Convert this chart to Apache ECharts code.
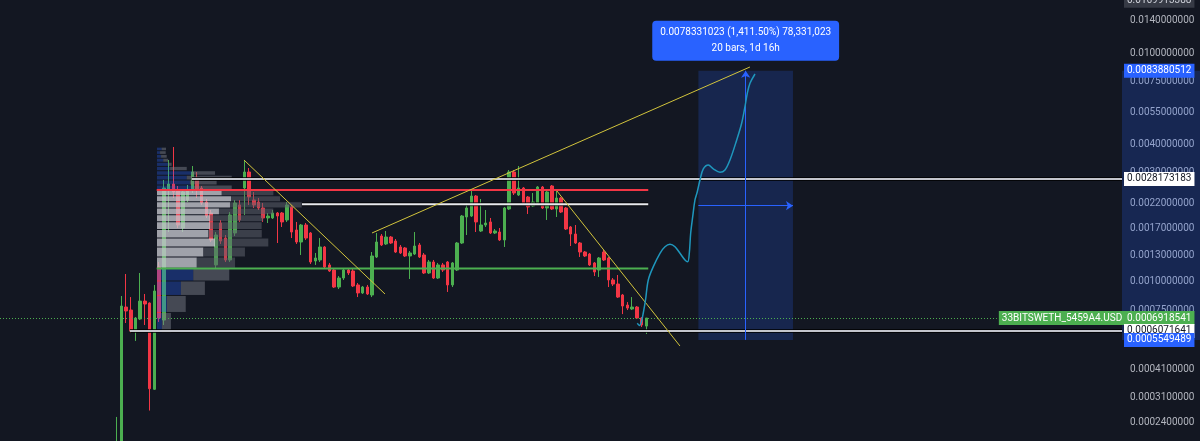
<!DOCTYPE html>
<html><head><meta charset="utf-8">
<script src="https://cdn.jsdelivr.net/npm/echarts@6/dist/echarts.min.js"></script>
<style>html,body{margin:0;padding:0;background:#131722;}#c{width:1200px;height:441px;}</style>
</head><body><div id="c"></div>
<script>
// ---------- data (bar index = position in arrays) ----------
const OPEN = [0.000170,0.000180,0.000773,0.000750,0.000613,0.000685,0.000821,0.000805,0.000337,0.001158,
0.000678,0.002518,0.002676,0.002518,0.001716,0.002277,0.002518,0.002843,0.002570,0.002231,
0.001997,0.001182,0.001805,0.001551,0.001243,0.001632,0.002165,0.002570,0.003020,0.002277,
0.002231,0.002100,0.001899,0.001899,0.001997,0.001997,0.001861,0.002122,0.001682,0.001490,
0.001769,0.001632,0.001230,0.001243,0.001417,0.001182,0.001123,0.000946,0.001036,0.001123,
0.001112,0.000966,0.000891,0.000946,0.000873,0.001281,0.001583,0.001461,0.001567,0.001505,
0.001417,0.001403,0.001294,0.001320,0.001446,0.001307,0.001090,0.001218,0.001036,0.001182,
0.001218,0.000966,0.001123,0.001475,0.001918,0.001937,0.002370,0.001665,0.001769,0.001824,
0.001632,0.001648,0.001521,0.002079,0.003020,0.002394,0.002570,0.002347,0.002143,0.002209,
0.002596,0.002100,0.002622,0.002079,0.002323,0.002100,0.001734,0.001615,0.001475,0.001347,
0.001320,0.001206,0.001123,0.001347,0.001268,0.001016,0.000975,0.000873,0.000789,0.000758,
0.000773,0.000692,0.000638];
const CLOSE = [0.000185,0.000781,0.000743,0.000607,0.000692,0.000821,0.000797,0.000339,0.000909,0.000692,
0.002570,0.002676,0.002468,0.001769,0.002468,0.002518,0.003020,0.002518,0.002209,0.001937,
0.001521,0.001599,0.001505,0.001243,0.001957,0.002209,0.001861,0.003020,0.002347,0.002165,
0.002100,0.001899,0.001937,0.001997,0.001937,0.001824,0.002165,0.001648,0.001490,0.001769,
0.001551,0.001218,0.001268,0.001417,0.001158,0.001112,0.000946,0.001036,0.001123,0.001090,
0.000956,0.000891,0.000946,0.000882,0.001294,0.001490,0.001446,0.001567,0.001475,0.001347,
0.001334,0.001294,0.001334,0.001431,0.001281,0.001090,0.001218,0.001036,0.001182,0.001123,
0.000966,0.001206,0.001475,0.001937,0.002100,0.002370,0.001824,0.001769,0.001805,0.001632,
0.001665,0.001521,0.002100,0.003020,0.002443,0.002570,0.002209,0.002122,0.002231,0.002596,
0.002100,0.002468,0.002079,0.002323,0.002017,0.001699,0.001615,0.001475,0.001347,0.001294,
0.001182,0.001101,0.001268,0.001243,0.001016,0.000975,0.000855,0.000781,0.000765,0.000773,
0.000692,0.000645,0.0006918541];
const LOW = [0.000160,0.000170,0.000658,0.000595,0.000549,0.000678,0.000645,0.000272,0.000335,0.000665,
0.000645,0.001648,0.002323,0.001716,0.001648,0.002231,0.002443,0.002323,0.002165,0.001899,
0.001490,0.001146,0.001461,0.001218,0.001218,0.001583,0.001824,0.001957,0.002165,0.002100,
0.002058,0.001824,0.001805,0.001880,0.001475,0.001734,0.001824,0.001551,0.001461,0.001307,
0.001521,0.001194,0.001182,0.001218,0.001146,0.001101,0.000937,0.000927,0.001016,0.001068,
0.000946,0.000855,0.000882,0.000873,0.000855,0.001268,0.001431,0.001446,0.001461,0.001334,
0.001320,0.001281,0.001026,0.001307,0.001268,0.001079,0.001079,0.001026,0.001026,0.001101,
0.000900,0.000946,0.001112,0.001461,0.001599,0.001918,0.001648,0.001648,0.001734,0.001615,
0.001615,0.001505,0.001417,0.002058,0.002394,0.002370,0.002165,0.001977,0.002122,0.002187,
0.002079,0.001861,0.002058,0.001918,0.001997,0.001682,0.001431,0.001461,0.001281,0.001281,
0.001170,0.001057,0.001047,0.001230,0.000946,0.000956,0.000847,0.000720,0.000750,0.000750,
0.000685,0.000632,0.000589];
const HIGH = [0.000255,0.000864,0.001079,0.000855,0.000699,0.001090,0.000882,0.000810,0.000966,0.001218,
0.002786,0.003409,0.003887,0.002622,0.002544,0.002649,0.003208,0.003020,0.002622,0.002300,
0.002058,0.001648,0.001861,0.001599,0.002017,0.002277,0.002277,0.003409,0.003144,0.002468,
0.002323,0.002209,0.001997,0.002058,0.002017,0.002017,0.002231,0.002165,0.001824,0.001787,
0.001805,0.001648,0.001334,0.001551,0.001431,0.001206,0.001135,0.001057,0.001146,0.001146,
0.001146,0.000985,0.000956,0.000966,0.001347,0.001632,0.001615,0.001665,0.001583,0.001536,
0.001446,0.001417,0.001361,0.001648,0.001475,0.001334,0.001243,0.001243,0.001206,0.001206,
0.001230,0.001218,0.001490,0.001957,0.002209,0.002518,0.002394,0.002300,0.002058,0.001899,
0.001699,0.001716,0.002122,0.003082,0.003082,0.003208,0.002596,0.002370,0.002443,0.002622,
0.002622,0.002493,0.002649,0.002518,0.002347,0.002122,0.001751,0.001769,0.001490,0.001361,
0.001334,0.001218,0.001281,0.001375,0.001281,0.001036,0.001068,0.000882,0.000813,0.000855,
0.000781,0.000699,0.000692];

// price-axis tick labels
const TICKS = [0.014, 0.01, 0.0075, 0.0055, 0.004, 0.003, 0.0022, 0.0017, 0.0013, 0.001, 0.00075, 0.00041, 0.00031, 0.00024];

// volume profile rows (bottom row first), equal price steps
const VP_LOW = 0.000595;
const VP_STEP = 0.0001369;
const VP_UP   = [3.4, 6.9, 16.5, 25.0, 27.4, 31.9, 40.0, 35.4, 36.5, 36.5, 42.7, 50.3, 51.0, 44.6, 25.0, 22.7, 20.5, 23.9, 9.0, 7.8, 4.3, 2.8, 2.1, 3.2];
const VP_DOWN = [6.2, 12.9, 16.5, 24.8, 26.4, 28.7, 36.7, 36.8, 35.6, 36.7, 37.4, 49.4, 33.8, 35.6, 26.5, 18.4, 31.0, 16.1, 11.5, 2.3, 3.4, 3.9, 3.9, 3.0];
const VA_ROWS = [4, 13];

// horizontal levels: price, from bar, to bar (null = to right edge)
const LEVEL_PRICE = [0.0028173183, 0.002518, 0.00218, 0.00114, 0.0006071641];
const LEVEL_FROM  = [15.9, 8.48, 39.2, 8.48, 2.8];
const LEVEL_TO    = [null, 112.4, 112.4, 112.4, null];

// trend lines
const TREND_X = [[26.93, 56.74], [54.0, 133.9], [93.1, 119.1]];
const TREND_P = [[0.003409, 0.000882], [0.001632, 0.008714], [0.002493, 0.000522]];

// forecast path
const FC_X = [110.08,110.55,110.97,111.35,111.82,112.41,113.47,114.88,115.94,117.0,118.05,119.11,120.17,120.74,121.08,121.37,121.80,122.28,122.77,123.34,124.04,125.10,126.15,127.57,128.62,129.68,131.10,132.15,132.85,133.34,133.91,134.97];
const FC_P = [0.000656,0.000642,0.000668,0.000728,0.000830,0.001016,0.001162,0.001330,0.001421,0.001456,0.001421,0.001330,0.001243,0.001221,0.001330,0.001627,0.001924,0.002277,0.002475,0.002786,0.003116,0.003241,0.003116,0.003011,0.003082,0.003409,0.004171,0.004937,0.005837,0.006682,0.007391,0.008119];

// measurement tool
const MEASURE_BARS = [123, 143];
const MEASURE_PRICES = [0.0005549489, 0.0083880512];
const MEASURE_MID = 0.00215;
const MEASURE_TIME = '20 bars, 1d 16h';

const LAST_PRICE = 0.0006918541;
const SYMBOL_NAME = '33BITSWETH_5459A4.USD';
const TOP_TAG = 0.0169913388;

// ---------- layout / style ----------
const XMIN = -24.65, XMAX = 212.56, PRICE_LINE_END = 186.1;
const YMIN = 0.00020005, YMAX = 0.017131;
const FONT = 'Roboto';
const GREEN = '#4caf50', RED = '#f23645', BLUE = '#2962ff';
const LEVEL_STYLE = [
  {color:'#c3c5cc', width:2, outline:'rgba(0,0,0,0.75)'},
  {color:RED, width:2},
  {color:'#e8eaee', width:2, outline:'rgba(0,0,0,0.75)'},
  {color:GREEN, width:2},
  {color:'#c3c5cc', width:2, outline:'rgba(0,0,0,0.75)'}
];

const chart = echarts.init(document.getElementById('c'), null, {renderer:'canvas'});

const candleData = OPEN.map((o, i) => [i, o, CLOSE[i], LOW[i], HIGH[i]]);

const series = [];
series.push({
  type:'candlestick', xAxisIndex:0, yAxisIndex:0, z:2, silent:true,
  data: candleData, encode:{x:0, y:[1,2,3,4]}, barWidth:3,
  itemStyle:{color:GREEN, color0:RED, borderColor:GREEN, borderColor0:RED, borderWidth:1}
});

series.push({
  type:'custom', xAxisIndex:1, yAxisIndex:1, z:3, silent:true,
  data: VP_UP.map((u, i) => [i, u, VP_DOWN[i], VP_LOW + i * VP_STEP]),
  encode:{x:1, y:3},
  renderItem: (params, api) => {
    const i = api.value(0), up = api.value(1), dn = api.value(2);
    const lo = VP_LOW + i * VP_STEP, hi = lo + VP_STEP;
    const a = api.coord([0, hi]), b = api.coord([up, lo]), c = api.coord([up + dn, lo]);
    const inVA = i >= VA_ROWS[0] && i <= VA_ROWS[1];
    const y = a[1] + 0.5, h = Math.max(1, b[1] - a[1] - 1);
    return {type:'group', children:[
      {type:'rect', shape:{x:a[0], y:y, width:b[0]-a[0], height:h}, style:{fill: inVA ? 'rgba(196,198,205,0.8)' : 'rgba(41,98,255,0.32)'}},
      {type:'rect', shape:{x:b[0], y:y, width:c[0]-b[0], height:h}, style:{fill: inVA ? 'rgba(93,96,107,0.55)' : 'rgba(120,123,134,0.5)'}}
    ]};
  }
});

LEVEL_PRICE.forEach((p, k) => {
  const to = LEVEL_TO[k] == null ? XMAX : LEVEL_TO[k];
  const d = [[LEVEL_FROM[k], p], [to, p]];
  const st = LEVEL_STYLE[k];
  if (st.outline) series.push({type:'line', data:d, symbol:'none', silent:true, z:4, lineStyle:{color:st.outline, width:4}});
  series.push({type:'line', data:d, symbol:'none', silent:true, z:4, lineStyle:{color:st.color, width:st.width}});
});

TREND_X.forEach((xs, k) => {
  series.push({type:'line', data:[[xs[0], TREND_P[k][0]], [xs[1], TREND_P[k][1]]], symbol:'none', silent:true, z:5,
    lineStyle:{color:'#d2c43c', width:1}});
});

series.push({type:'line', data: FC_X.map((x, i) => [x, FC_P[i]]), symbol:'none', smooth:0.35, silent:true, z:6,
  lineStyle:{color:'#1f97bd', width:1.5}});

// measurement
const mLo = MEASURE_PRICES[0], mHi = MEASURE_PRICES[1];
const diff = mHi - mLo;
const comma = s => s.replace(/\B(?=(\d{3})+(?!\d))/g, ',');
const mText = diff.toFixed(10) + ' (' + comma((diff / mLo * 100).toFixed(2)) + '%) ' + comma(String(Math.round(diff * 1e10))) + '\n' + MEASURE_TIME;
const mMidBar = (MEASURE_BARS[0] + MEASURE_BARS[1]) / 2;
series.push({
  type:'line', data:[], silent:true, z:3, clip:false,
  markArea:{silent:true, animation:false,
    itemStyle:{color:'rgba(41,98,255,0.2)'},
    data:[[{coord:[MEASURE_BARS[0], mHi],
      label:{show:true, position:'top', distance:10, formatter:mText, backgroundColor:BLUE, color:'#ffffff',
        padding:[4,8], borderRadius:4, fontSize:10, lineHeight:16, fontFamily:FONT, align:'center'}},
      {coord:[MEASURE_BARS[1], mLo]}]]},
  markLine:{silent:true, animation:false, symbol:['none','arrow'], symbolSize:7, precision:10,
    lineStyle:{color:BLUE, width:1, type:'solid'}, label:{show:false},
    data:[[{coord:[mMidBar, mLo]}, {coord:[mMidBar, mHi]}],
          [{coord:[MEASURE_BARS[0], MEASURE_MID]}, {coord:[MEASURE_BARS[1], MEASURE_MID]}]]}
});

// price line + symbol tag
series.push({
  type:'line', data:[], silent:true, z:7, clip:false,
  markLine:{silent:true, animation:false, symbol:'none', precision:10,
    data:[[{coord:[XMIN, LAST_PRICE], lineStyle:{color:GREEN, width:1, type:[1,2]},
      label:{show:true, position:'end', distance:2, formatter:SYMBOL_NAME, backgroundColor:GREEN, color:'#ffffff',
        padding:[1,3], fontSize:10, lineHeight:12, fontFamily:FONT}},
      {coord:[PRICE_LINE_END, LAST_PRICE]}]]}
});

// axis tags
function tag(v, bg, fg) {
  return {yAxis:v, lineStyle:{color:'rgba(0,0,0,0)', width:1, opacity:1},
    label:{show:true, position:'end', distance:2, formatter:v.toFixed(10), backgroundColor:bg, color:fg, opacity:1,
      padding:[1,3], fontSize:10, lineHeight:12, fontFamily:FONT}};
}
series.push({
  type:'line', data:[], silent:true, z:8, clip:false,
  markLine:{silent:true, animation:false, symbol:'none', precision:10,
    data:[tag(TOP_TAG, '#363a45', '#d1d4dc'), tag(MEASURE_PRICES[1], BLUE, '#ffffff'), tag(LEVEL_PRICE[0], '#ffffff', '#131722'),
          tag(LAST_PRICE, GREEN, '#ffffff'), tag(LEVEL_PRICE[4], '#ffffff', '#131722'), tag(MEASURE_PRICES[0], BLUE, '#ffffff')]}
});

// axis column highlight of the measured range
series.push({
  type:'line', xAxisIndex:2, yAxisIndex:2, data:[], silent:true, z:-1, clip:false,
  markArea:{silent:true, animation:false, itemStyle:{color:'rgba(41,98,255,0.22)'},
    data:[[{coord:[0, mHi]}, {coord:[1, mLo]}]]}
});

const hiddenLog = (gi) => ({type:'log', gridIndex:gi, min:YMIN, max:YMAX, show:false});
chart.setOption({
  backgroundColor:'#131722',
  animation:false,
  grid:[
    {left:0, right:78, top:0, bottom:0},
    {left:157, right:78, top:0, bottom:0},
    {left:1122, right:0, top:0, bottom:0}
  ],
  xAxis:[
    {type:'value', gridIndex:0, min:XMIN, max:XMAX, show:false},
    {type:'value', gridIndex:1, min:0, max:665, show:false},
    {type:'value', gridIndex:2, min:0, max:1, show:false}
  ],
  yAxis:[
    {type:'log', gridIndex:0, min:YMIN, max:YMAX, position:'right',
      axisLine:{show:false}, axisTick:{show:false}, splitLine:{show:false},
      axisLabel:{customValues:TICKS, formatter:v => Number(v).toFixed(10), color:'#b2b5be', fontSize:10, fontFamily:FONT, margin:8}},
    hiddenLog(1), hiddenLog(2)
  ],
  series: series
});
</script></body></html>
